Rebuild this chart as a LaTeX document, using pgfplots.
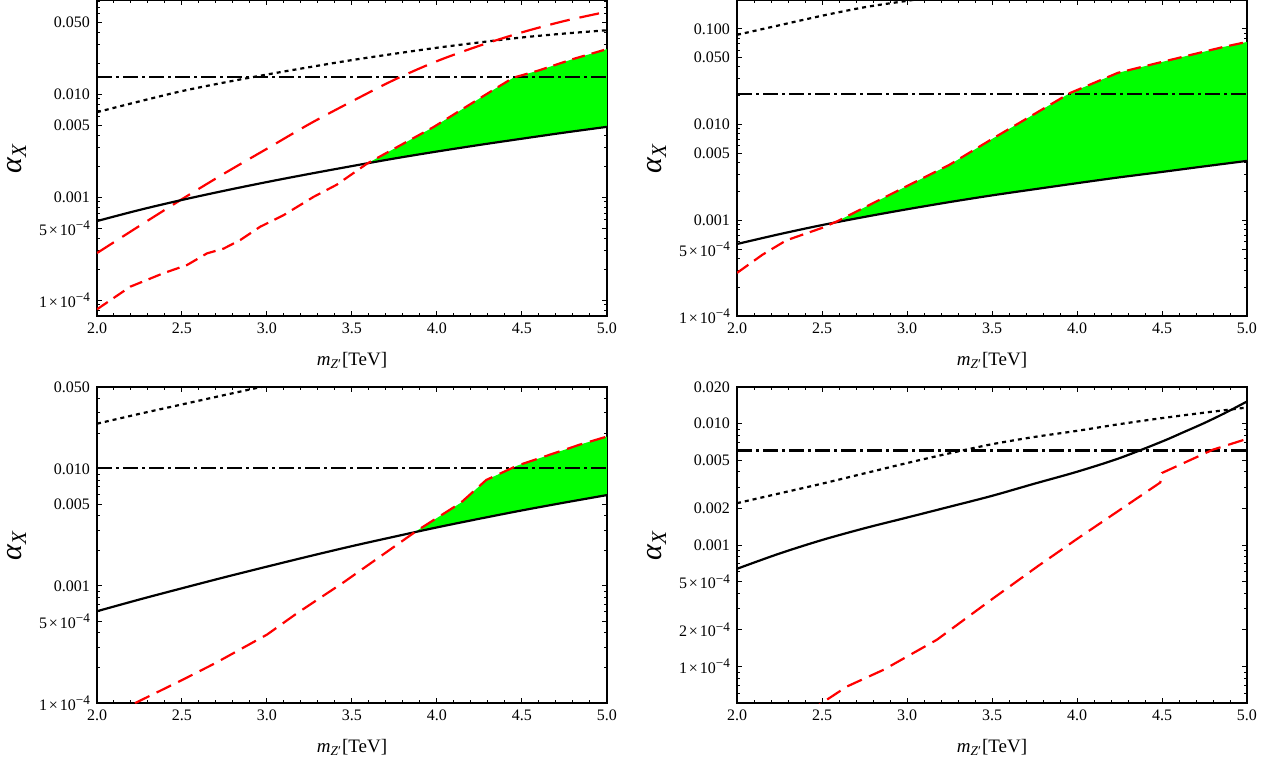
\documentclass[border=0pt]{standalone}
\usepackage{fontspec}
\setmainfont{Liberation Serif}
\usepackage{pgfplots}
\usepackage{pgfplotstable}
\pgfplotsset{compat=1.18}
\definecolor{brightgreen}{RGB}{0,255,0}
\definecolor{pred}{RGB}{255,0,0}
\newcommand{\sci}[2]{#1\hspace{0.12em}{\texttimes}\hspace{0.12em}10\raisebox{0.75ex}{\fontsize{6.6}{7}\selectfont −#2}}

% ---------------- data ----------------
\pgfplotstableread{
x y
2.0 5.85e-4
2.25 7.50e-4
2.5 9.38e-4
2.75 1.153e-3
3.0 1.40e-3
3.25 1.68e-3
3.5 2.00e-3
3.75 2.37e-3
4.0 2.77e-3
4.25 3.21e-3
4.5 3.69e-3
4.75 4.23e-3
5.0 4.81e-3
}\pAblk
\pgfplotstableread{
x y
2.0 8.13e-5
2.196 1.349e-4
2.39 1.82e-4
2.53 2.19e-4
2.647 2.84e-4
2.745 3.16e-4
2.843 3.83e-4
2.96 5.15e-4
3.098 6.68e-4
3.275 1.007e-3
3.41 1.318e-3
3.59 2.12e-3
3.98 4.79e-3
4.35 0.01148
4.45 0.01445
4.6 0.0170
4.8 0.0219
5.0 0.02735
}\pAred
\pgfplotstableread{
x y
3.59 2.12e-3
3.98 4.79e-3
4.35 0.01148
4.45 0.01445
4.6 0.0170
4.8 0.0219
5.0 0.02735
5.0 4.81e-3
4.75 4.23e-3
4.5 3.69e-3
4.25 3.21e-3
4.0 2.77e-3
3.75 2.37e-3
3.59 2.13e-3
}\pAfill
\pgfplotstableread{
x y
2.0 5.65e-4
2.25 7.16e-4
2.5 8.91e-4
2.75 1.084e-3
3.0 1.303e-3
3.25 1.549e-3
3.5 1.82e-3
3.75 2.11e-3
4.0 2.44e-3
4.25 2.81e-3
4.5 3.20e-3
4.75 3.66e-3
5.0 4.17e-3
}\pBblk
\pgfplotstableread{
x y
2.0 2.82e-4
2.15 4.37e-4
2.29 6.17e-4
2.5 8.32e-4
2.59 9.77e-4
2.8 1.51e-3
3.25 3.80e-3
3.51 7.24e-3
3.74 0.01259
3.96 0.02138
4.24 0.03467
4.5 0.04508
4.86 0.06457
5.0 0.07295
}\pBred
\pgfplotstableread{
x y
2.59 9.77e-4
2.8 1.51e-3
3.25 3.80e-3
3.51 7.24e-3
3.74 0.01259
3.96 0.02138
4.24 0.03467
4.5 0.04508
4.86 0.06457
5.0 0.07295
5.0 4.17e-3
4.75 3.66e-3
4.5 3.20e-3
4.25 2.81e-3
4.0 2.44e-3
3.75 2.11e-3
3.5 1.82e-3
3.25 1.549e-3
3.0 1.303e-3
2.75 1.084e-3
2.59 9.6e-4
}\pBfill
\pgfplotstableread{
x y
2.0 6.08e-4
2.25 7.66e-4
2.5 9.55e-4
2.75 1.186e-3
3.0 1.462e-3
3.25 1.795e-3
3.5 2.188e-3
3.75 2.636e-3
4.0 3.162e-3
4.25 3.75e-3
4.5 4.416e-3
4.75 5.15e-3
5.0 5.97e-3
}\pCblk
\pgfplotstableread{
x y
2.0 5.62e-5
2.225 1.0e-4
2.5 1.57e-4
2.696 2.19e-4
3.0 3.84e-4
3.18 5.89e-4
3.45 1.072e-3
3.88 2.95e-3
4.14 5.13e-3
4.29 8.04e-3
4.47 0.01062
4.84 0.0161
5.0 0.01888
}\pCred
\pgfplotstableread{
x y
3.87 2.88e-3
3.88 2.95e-3
4.14 5.13e-3
4.29 8.04e-3
4.47 0.01062
4.84 0.0161
5.0 0.01888
5.0 5.97e-3
4.75 5.15e-3
4.5 4.416e-3
4.25 3.75e-3
4.0 3.162e-3
3.87 2.876e-3
}\pCfill

\pgfplotsset{
  mypanel/.style={
    scale only axis, width=255pt, height=158pt,
    xmin=2, xmax=5,
    xtick={2,2.5,3,3.5,4,4.5,5},
    xticklabels={2.0,2.5,3.0,3.5,4.0,4.5,5.0},
    minor xtick={2.1,2.2,2.3,2.4,2.6,2.7,2.8,2.9,3.1,3.2,3.3,3.4,3.6,3.7,3.8,3.9,4.1,4.2,4.3,4.4,4.6,4.7,4.8,4.9},
    tick label style={font=\fontsize{8}{9}\selectfont},
    major tick length=2.6pt, minor tick length=1.5pt,
    every tick/.style={black, line width=0.5pt},
    axis line style={line width=0.6pt, black},
    xlabel={\fontsize{9.5}{11}\selectfont\textit{m}\textsubscript{\textit{Z}′}[TeV]},
    ylabel={\fontsize{15}{16}\selectfont\textit{α}\textsubscript{\textit{X}}},
    every axis x label/.style={at={(axis description cs:0.5,-0.14)}, anchor=center},
    every axis y label/.style={at={(axis description cs:-0.157,0.5)}, rotate=90, anchor=center},
  },
  solidl/.style={black, line width=1.1pt},
  dotl/.style={black, line width=1.1pt, dash pattern=on 2pt off 2pt},
  dashdotl/.style={black, line width=1.1pt, dash pattern=on 7.5pt off 2pt on 1.5pt off 2pt},
}

\begin{document}
\begin{tikzpicture}
\path[use as bounding box] (0,0) rectangle (635.5pt,-382.5pt);

% ---------- panel 1 ----------
\begin{axis}[mypanel, ymode=log, at={(48.5pt,0pt)}, anchor=north west,
  ymin=7e-5, ymax=0.082,
  ytick={1e-4,5e-4,1e-3,5e-3,1e-2,5e-2},
  minor ytick={8e-5,9e-5,2e-4,3e-4,4e-4,6e-4,7e-4,8e-4,9e-4,2e-3,3e-3,4e-3,6e-3,7e-3,8e-3,9e-3,0.02,0.03,0.04,0.06,0.07,0.08},
  yticklabels={\sci{1}{4},\sci{5}{4},0.001,0.005,0.010,0.050}]
\addplot[fill=brightgreen, draw=none] table {\pAfill};
\addplot[dotl, smooth] coordinates {(2.0,6.68e-3) (2.25,8.5e-3) (2.5,0.0107) (2.75,0.01297) (3.0,0.0155) (3.25,0.01828) (3.5,0.0214) (3.75,0.02466) (4.0,0.0282) (4.25,0.03177) (4.5,0.0355) (4.75,0.03873) (5.0,0.0417)};
\addplot[dashdotl] coordinates {(2.0,0.0146) (5.0,0.0146)};
\addplot[pred, line width=1.1pt, dash pattern=on 10pt off 5pt, smooth] coordinates {(2.0,2.86e-4) (2.25,5.25e-4) (2.5,9.55e-4) (2.75,1.70e-3) (3.0,2.95e-3) (3.25,5.13e-3) (3.5,8.51e-3) (3.75,0.0138) (4.0,0.0209) (4.25,0.0295) (4.5,0.0398) (4.75,0.0513) (5.0,0.0631)};
\addplot[solidl, smooth] table {\pAblk};
\addplot[pred, line width=1.1pt, dash pattern=on 6.5pt off 3.5pt] table {\pAred};
\end{axis}

% ---------- panel 2 ----------
\begin{axis}[mypanel, ymode=log, at={(368.5pt,0pt)}, anchor=north west,
  ymin=1e-4, ymax=0.2,
  ytick={1e-4,5e-4,1e-3,5e-3,1e-2,5e-2,0.1},
  minor ytick={2e-4,3e-4,4e-4,6e-4,7e-4,8e-4,9e-4,2e-3,3e-3,4e-3,6e-3,7e-3,8e-3,9e-3,0.02,0.03,0.04,0.06,0.07,0.08,0.09},
  yticklabels={\sci{1}{4},\sci{5}{4},0.001,0.005,0.010,0.050,0.100}]
\addplot[fill=brightgreen, draw=none] table {\pBfill};
\addplot[dotl, smooth] coordinates {(2.0,0.0866) (2.25,0.109) (2.5,0.137) (2.75,0.168) (3.0,0.196) (3.25,0.228) (3.5,0.26)};
\addplot[dashdotl] coordinates {(2.0,0.0209) (5.0,0.0209)};
\addplot[solidl, smooth] table {\pBblk};
\addplot[pred, line width=1.1pt, dash pattern=on 7pt off 3.5pt] table {\pBred};
\end{axis}

% ---------- panel 3 ----------
\begin{axis}[mypanel, ymode=log, at={(48.5pt,-193.5pt)}, anchor=north west,
  ymin=1e-4, ymax=0.05,
  ytick={1e-4,5e-4,1e-3,5e-3,1e-2,5e-2},
  minor ytick={2e-4,3e-4,4e-4,6e-4,7e-4,8e-4,9e-4,2e-3,3e-3,4e-3,6e-3,7e-3,8e-3,9e-3,0.02,0.03,0.04},
  yticklabels={\sci{1}{4},\sci{5}{4},0.001,0.005,0.010,0.050}]
\addplot[fill=brightgreen, draw=none] table {\pCfill};
\addplot[dotl, smooth] coordinates {(2.0,0.0243) (2.25,0.0295) (2.5,0.0355) (2.75,0.0427) (3.0,0.0513) (3.25,0.0617)};
\addplot[dashdotl] coordinates {(2.0,0.0101) (5.0,0.0101)};
\addplot[solidl, smooth] table {\pCblk};
\addplot[pred, line width=1.1pt, dash pattern=on 8pt off 4pt] table {\pCred};
\end{axis}

% ---------- panel 4 ----------
\begin{axis}[mypanel, ymode=log, at={(368.5pt,-193.5pt)}, anchor=north west,
  ymin=5e-5, ymax=0.02,
  ytick={1e-4,2e-4,5e-4,1e-3,2e-3,5e-3,1e-2,2e-2},
  minor ytick={6e-5,7e-5,8e-5,9e-5,3e-4,4e-4,6e-4,7e-4,8e-4,9e-4,3e-3,4e-3,6e-3,7e-3,8e-3,9e-3},
  yticklabels={\sci{1}{4},\sci{2}{4},\sci{5}{4},0.001,0.002,0.005,0.010,0.020}]
\addplot[dotl, smooth] coordinates {(2.0,2.21e-3) (2.25,2.66e-3) (2.5,3.20e-3) (2.75,3.89e-3) (3.0,4.73e-3) (3.25,5.69e-3) (3.5,6.76e-3) (3.75,7.76e-3) (4.0,8.71e-3) (4.25,9.89e-3) (4.5,0.01109) (4.75,0.01230) (5.0,0.01355)};
\addplot[dashdotl] coordinates {(2.0,0.0060) (5.0,0.0060)};
\addplot[solidl, smooth] coordinates {(2.0,6.37e-4) (2.25,8.51e-4) (2.5,1.099e-3) (2.75,1.374e-3) (3.0,1.683e-3) (3.25,2.065e-3) (3.5,2.54e-3) (3.75,3.20e-3) (4.0,4.01e-3) (4.25,5.19e-3) (4.5,7.11e-3) (4.625,8.47e-3) (4.75,0.01012) (4.875,0.0123) (5.0,0.0152)};
\addplot[pred, line width=1.1pt, dash pattern=on 8pt off 4pt] coordinates {(2.3,3.16e-5) (2.5,5.01e-5) (2.647,6.84e-5) (2.863,9.40e-5) (3.176,1.66e-4) (3.5,3.58e-4) (3.77,6.70e-4) (4.0,1.122e-3) (4.49,3.27e-3) (4.5,3.92e-3) (4.8,6.10e-3) (5.0,7.48e-3)};
\end{axis}
\end{tikzpicture}
\end{document}
